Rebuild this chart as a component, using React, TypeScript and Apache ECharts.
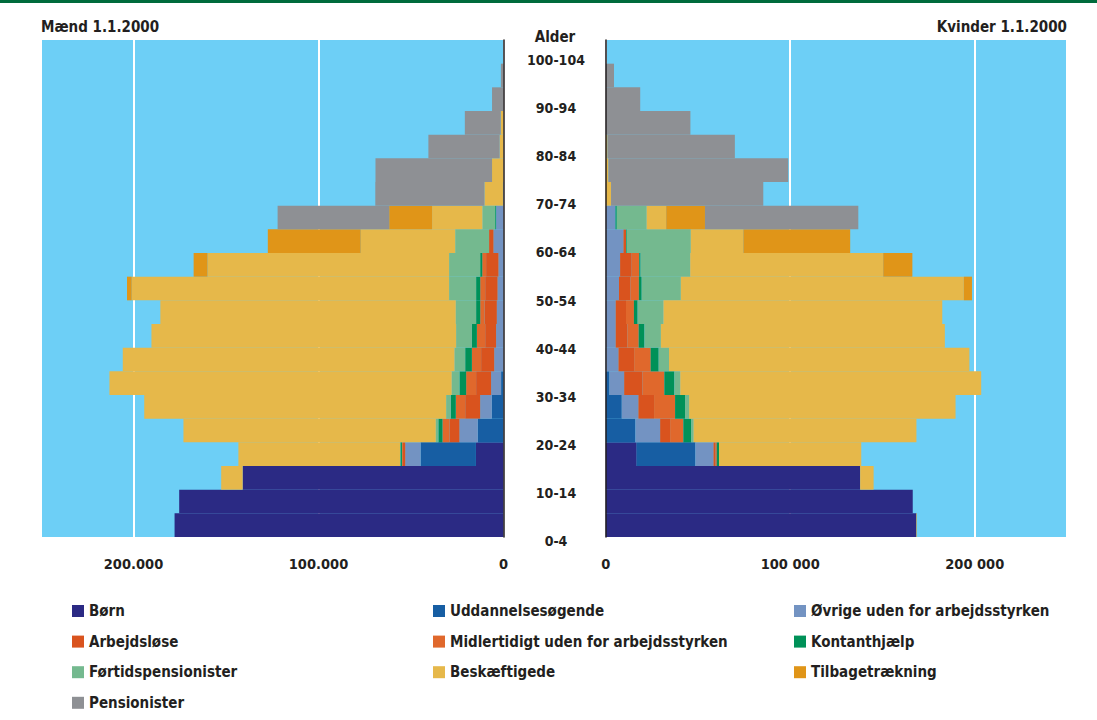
import React, { useEffect, useRef } from "react";
import * as echarts from "echarts";

const ages = ["0-4","5-9","10-14","15-19","20-24","25-29","30-34","35-39","40-44","45-49","50-54","55-59","60-64","65-69","70-74","75-79","80-84","85-89","90-94","95-99","100-104"];

const seriesNames = ["Børn","Uddannelsesøgende","Øvrige uden for arbejdsstyrken","Arbejdsløse","Midlertidigt uden for arbejdsstyrken","Kontanthjælp","Førtidspensionister","Beskæftigede","Tilbagetrækning","Pensionister"];
const seriesColors = ["#2b2a84","#175ea3","#7393c2","#d9531e","#e0682c","#009158","#74b98f","#e6b84a","#e09518","#8e9094"];

// Mænd (ages 0-4 ... 100-104)
const menBorn = [177800,175300,141000,14900,0,0,0,0,0,0,0,0,0,0,0,0,0,0,0,0,0];
const menUdd = [0,0,0,29900,13900,6300,1300,0,0,0,0,0,0,0,0,0,0,0,0,0,0];
const menOvr = [0,0,0,8300,9900,6300,5400,5000,4000,3600,3200,2700,5400,4000,300,0,0,0,0,0,0];
const menArb = [0,0,0,1300,5400,8100,8100,7100,5900,6700,6700,6700,2400,0,0,0,0,0,0,0,0];
const menMidl = [0,0,0,500,3800,5100,5400,5000,4500,2300,2700,2100,0,0,0,0,0,0,0,0,0];
const menKont = [0,0,0,800,2200,2700,3600,3600,2700,2200,2200,1100,0,500,0,0,0,0,0,0,0];
const menFort = [0,0,0,200,1400,2500,4200,5800,8500,11000,14600,16800,18300,6900,0,0,0,0,0,0,0];
const menBesk = [0,0,11600,87400,136400,163200,185000,179300,164700,159700,171600,130600,51100,27200,10000,6200,2100,1500,0,0,0];
const menTilb = [0,0,0,0,0,0,0,0,0,0,2500,7500,50200,23200,0,0,0,0,0,0,0];
const menPens = [0,0,0,0,0,0,0,0,0,0,0,0,0,60300,59000,63000,38500,19400,6200,1400,100];

// Kvinder
const womenBorn = [168400,166400,137900,16800,0,0,0,0,0,0,0,0,0,0,0,0,0,0,0,0,0];
const womenUdd = [0,0,0,31800,16100,8700,2000,300,0,0,0,0,0,0,0,0,0,0,0,0,0];
const womenOvr = [0,0,0,9800,13400,9000,8000,6600,5400,5400,7200,7800,9600,5300,0,0,0,0,0,0,0];
const womenArb = [0,0,0,1200,5400,8500,10000,8500,6300,5600,6300,6300,1400,0,0,0,0,0,0,0,0];
const womenMidl = [0,0,0,600,7200,11400,11800,9000,6200,4300,4500,4100,0,0,0,0,0,0,0,0,0];
const womenKont = [0,0,0,1200,4200,5400,5400,4300,3100,2000,1500,700,400,700,0,0,0,0,0,0,0];
const womenFort = [0,0,0,0,1300,2200,3200,5600,8900,14000,21200,26900,34700,16200,0,0,0,0,0,0,0];
const womenBesk = [300,0,7300,77100,120800,144400,163100,162800,153900,151100,153400,104600,28500,10600,2900,1500,1000,0,0,0,0];
const womenTilb = [0,0,0,0,0,0,0,0,0,0,4400,15800,57900,21000,0,0,0,0,0,0,0];
const womenPens = [0,0,0,0,0,0,0,0,0,0,0,0,0,83100,82500,97400,69000,45900,18700,4500,300];

const xTicksMen = ["0","100.000","200.000"];
const xTicksWomen = ["0","100 000","200 000"];

const FONT = "'Liberation Sans Narrow', 'DejaVu Sans Condensed', 'Open Sans', sans-serif";
const TXT = "#231f20";

export default function App() {
  const ref = useRef<HTMLDivElement>(null);
  useEffect(() => {
    if (!ref.current) return;
    const chart = echarts.init(ref.current, undefined, { renderer: "svg" });
    const menData = [menBorn, menUdd, menOvr, menArb, menMidl, menKont, menFort, menBesk, menTilb, menPens];
    const womenData = [womenBorn, womenUdd, womenOvr, womenArb, womenMidl, womenKont, womenFort, womenBesk, womenTilb, womenPens];
    const series: any[] = [];
    seriesNames.forEach((name, i) => {
      series.push({
        name, type: "bar", stack: "m", xAxisIndex: 0, yAxisIndex: 0,
        data: menData[i], barCategoryGap: "0%", itemStyle: { color: seriesColors[i] }, silent: true,
      });
    });
    seriesNames.forEach((name, i) => {
      series.push({
        name, type: "bar", stack: "w", xAxisIndex: 1, yAxisIndex: 1,
        data: womenData[i], barCategoryGap: "0%", itemStyle: { color: seriesColors[i] }, silent: true,
      });
    });
    const baseText = { color: TXT, fontFamily: FONT, fontWeight: "bold" as const };
    const xAxisBase = (grid: number, ticks: string[], inverse: boolean) => ({
      type: "value", gridIndex: grid, min: 0, max: 250000, interval: 100000, inverse,
      axisLine: { show: false }, axisTick: { show: false },
      splitLine: { show: true, lineStyle: { color: "#ffffff", width: 2 } },
      axisLabel: {
        ...baseText, fontSize: 14.5, margin: 19, showMaxLabel: false,
        formatter: (v: number) => (v % 100000 === 0 ? ticks[v / 100000] ?? "" : ""),
      },
    });
    const legendBase = {
      orient: "vertical", icon: "rect", itemWidth: 12, itemHeight: 12, itemGap: 12.6, padding: 0,
      textStyle: { ...baseText, fontSize: 15, lineHeight: 18 }, selectedMode: false,
    };
    chart.setOption({
      animation: false,
      title: [
        { text: "Mænd 1.1.2000", left: 41, top: 19, padding: 0, textStyle: { ...baseText, fontSize: 15 } },
        { text: "Kvinder 1.1.2000", right: 30, top: 19, padding: 0, textStyle: { ...baseText, fontSize: 15 } },
      ],
      graphic: [
        { type: "rect", left: 0, top: 0, shape: { width: 1097, height: 3 }, style: { fill: "#006b3c" } },
      ],
      grid: [
        { left: 41, right: 593.5, top: 40, bottom: 183, show: true, backgroundColor: "#6dcff6", borderWidth: 0 },
        { left: 605.7, right: 30, top: 40, bottom: 183, show: true, backgroundColor: "#6dcff6", borderWidth: 0 },
        { left: 555, width: 2, top: 48, bottom: 167, show: false },
      ],
      xAxis: [
        xAxisBase(0, xTicksMen, true),
        xAxisBase(1, xTicksWomen, false),
        { type: "value", gridIndex: 2, show: false },
      ],
      yAxis: [
        {
          type: "category", gridIndex: 0, data: ages, position: "right", z: 5,
          axisLine: { show: true, lineStyle: { color: TXT, width: 1.5 } },
          axisTick: { show: false }, axisLabel: { show: false }, splitLine: { show: false },
        },
        {
          type: "category", gridIndex: 1, data: ages, position: "left", z: 5,
          axisLine: { show: true, lineStyle: { color: TXT, width: 1.5 } },
          axisTick: { show: false }, axisLabel: { show: false }, splitLine: { show: false },
        },
        {
          type: "category", gridIndex: 2, data: ages, position: "left",
          axisLine: { show: false }, axisTick: { show: false }, splitLine: { show: false },
          axisLabel: { ...baseText, fontSize: 14, interval: 1, margin: -1, align: "center" },
          name: "Alder", nameLocation: "end", nameGap: 4,
          nameTextStyle: { ...baseText, fontSize: 15, align: "center", verticalAlign: "bottom" },
        },
      ],
      legend: [
        { ...legendBase, left: 72, top: 602, data: ["Børn", "Arbejdsløse", "Førtidspensionister", "Pensionister"] },
        { ...legendBase, left: 433, top: 602, data: ["Uddannelsesøgende", "Midlertidigt uden for arbejdsstyrken", "Beskæftigede"] },
        { ...legendBase, left: 794, top: 602, data: ["Øvrige uden for arbejdsstyrken", "Kontanthjælp", "Tilbagetrækning"] },
      ],
      series,
    });
    return () => chart.dispose();
  }, []);
  return <div ref={ref} style={{ position: "fixed", left: 0, top: 0, width: 1097, height: 720, background: "#fff" }} />;
}
